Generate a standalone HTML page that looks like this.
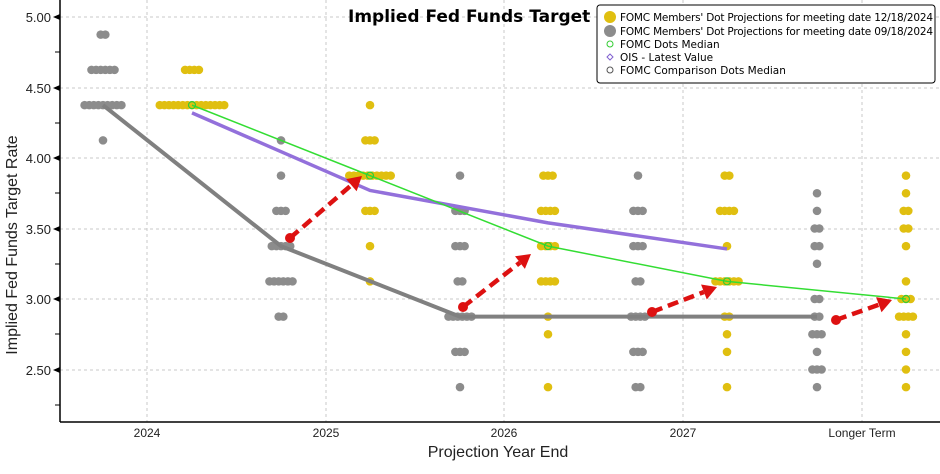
<!DOCTYPE html>
<html><head><meta charset="utf-8"><style>
body{margin:0;background:#fff;}
svg{display:block;font-family:"Liberation Sans",sans-serif;}
</style></head><body>
<svg id="s" width="940" height="474" xmlns="http://www.w3.org/2000/svg">
<rect width="940" height="474" fill="#fff"/>
<g stroke="#c8c8c8" stroke-dasharray="3,3" stroke-width="1">
<line x1="60" x2="940" y1="17" y2="17"/><line x1="60" x2="940" y1="88" y2="88"/><line x1="60" x2="940" y1="158" y2="158"/><line x1="60" x2="940" y1="229" y2="229"/><line x1="60" x2="940" y1="299" y2="299"/><line x1="60" x2="940" y1="370" y2="370"/>
<line x1="147" x2="147" y1="0" y2="422"/><line x1="326" x2="326" y1="0" y2="422"/><line x1="504" x2="504" y1="0" y2="422"/><line x1="683" x2="683" y1="0" y2="422"/><line x1="862" x2="862" y1="0" y2="422"/>
</g>
<g stroke="#000" stroke-width="1.5"><line x1="60" y1="0" x2="60" y2="422"/><line x1="60" y1="422" x2="940" y2="422"/></g>
<g stroke="#000" stroke-width="1">
<line x1="55" x2="60" y1="52" y2="52"/><line x1="55" x2="60" y1="123" y2="123"/><line x1="55" x2="60" y1="193" y2="193"/><line x1="55" x2="60" y1="264" y2="264"/><line x1="55" x2="60" y1="334" y2="334"/><line x1="55" x2="60" y1="405" y2="405"/>
</g>
<g fill="#000"><path d="M53,17 L60,14 L60,20Z"/><path d="M53,88 L60,85 L60,91Z"/><path d="M53,158 L60,155 L60,161Z"/><path d="M53,229 L60,226 L60,232Z"/><path d="M53,299 L60,296 L60,302Z"/><path d="M53,370 L60,367 L60,373Z"/></g>
<g font-size="13" fill="#222" text-anchor="end">
<text x="51" y="22">5.00</text><text x="51" y="93">4.50</text><text x="51" y="163">4.00</text><text x="51" y="234">3.50</text><text x="51" y="304">3.00</text><text x="51" y="375">2.50</text></g>
<g font-size="12" fill="#222" text-anchor="middle">
<text x="147" y="437">2024</text><text x="326" y="437">2025</text><text x="504" y="437">2026</text><text x="683" y="437">2027</text><text x="862" y="437">Longer Term</text></g>
<text x="498" y="457" font-size="16" fill="#222" text-anchor="middle">Projection Year End</text>
<text transform="translate(17,245) rotate(-90)" font-size="16" fill="#222" text-anchor="middle">Implied Fed Funds Target Rate</text>
<text x="348" y="22" font-size="17" font-weight="bold" fill="#000" style="font-family:'DejaVu Sans',sans-serif">Implied Fed Funds Target</text>
<g id="dots"></g>
<g id="lines"></g>
<g transform="translate(597,5)">
<rect x="0" y="0" width="338" height="78" rx="3" fill="#fff" stroke="#000" stroke-width="1"/>
<circle cx="13" cy="12" r="6" fill="#e0bf10"/><circle cx="13" cy="26" r="6" fill="#8c8c8c"/>
<circle cx="13" cy="39" r="3" fill="none" stroke="#33cc33"/>
<path d="M13,49 L16,52 L13,55 L10,52Z" fill="none" stroke="#8060d0"/>
<circle cx="13" cy="65" r="3" fill="none" stroke="#555"/>
<g font-size="10.5" fill="#000" style="font-family:'DejaVu Sans',sans-serif" textLength="0">
<text x="23" y="16" textLength="313">FOMC Members' Dot Projections for meeting date 12/18/2024</text>
<text x="23" y="30" textLength="313">FOMC Members' Dot Projections for meeting date 09/18/2024</text>
<text x="23" y="43">FOMC Dots Median</text>
<text x="23" y="56">OIS - Latest Value</text>
<text x="23" y="69">FOMC Comparison Dots Median</text></g>
</g>
</svg>
<script>
var Y=function(v){return 17+(5-v)*141;};
var ns="http://www.w3.org/2000/svg";
function el(t,a,p){var e=document.createElementNS(ns,t);for(var k in a)e.setAttribute(k,a[k]);document.getElementById(p).appendChild(e);return e;}
var G="#8c8c8c",Yl="#e0bf10";
var data=[
[103,G,[[4.875,2],[4.625,6],[4.375,9],[4.125,1]]],
[192,Yl,[[4.625,4],[4.375,15]]],
[281,G,[[4.125,1],[3.875,1],[3.625,3],[3.375,5],[3.125,6],[2.875,2]]],
[370,Yl,[[4.375,1],[4.125,3],[3.875,10],[3.625,3],[3.375,1],[3.125,1]]],
[460,G,[[3.875,1],[3.625,3],[3.375,3],[3.125,2],[2.875,6],[2.625,3],[2.375,1]]],
[548,Yl,[[3.875,3],[3.625,4],[3.375,4],[3.125,4],[2.875,1],[2.75,1],[2.375,1]]],
[638,G,[[3.875,1],[3.625,3],[3.375,3],[3.125,2],[2.875,4],[2.625,3],[2.375,2]]],
[727,Yl,[[3.875,2],[3.625,4],[3.375,1],[3.125,6],[2.875,2],[2.75,1],[2.625,1],[2.375,1]]],
[817,G,[[3.75,1],[3.625,1],[3.5,2],[3.375,2],[3.25,1],[3.0,2],[2.875,2],[2.75,3],[2.625,1],[2.5,3],[2.375,1]]],
[906,Yl,[[3.875,1],[3.75,1],[3.625,2],[3.5,2],[3.375,1],[3.125,1],[3.0,3],[2.875,4],[2.75,1],[2.625,1],[2.5,1],[2.375,1]]]];
data.forEach(function(c){c[2].forEach(function(r){var n=r[1];for(var i=0;i<n;i++){el("circle",{cx:c[0]+(i-(n-1)/2)*4.6,cy:Y(r[0]),r:4.3,fill:c[1]},"dots");}});});
function pl(pts,col,w){el("polyline",{points:pts.map(function(p){return p[0]+","+Y(p[1]);}).join(" "),fill:"none",stroke:col,"stroke-width":w,"stroke-linejoin":"round"},"lines");}
pl([[103,4.375],[281,3.375],[460,2.875],[638,2.875],[817,2.875]],"#808080",4);
pl([[192,4.32],[370,3.77],[548,3.54],[727,3.355]],"#9370db",3.5);
pl([[192,4.375],[370,3.875],[548,3.375],[727,3.125],[906,3.0]],"#33dd33",1.5);
[[192,4.375],[370,3.875],[548,3.375],[727,3.125],[906,3.0]].forEach(function(p){el("circle",{cx:p[0],cy:Y(p[1]),r:3.5,fill:"none",stroke:"#33cc33","stroke-width":1.2},"lines");});
[[290,238,362,176],[463,307,531,254],[652,312,717,287],[836,320,892,300]].forEach(function(a){
var dx=a[2]-a[0],dy=a[3]-a[1],L=Math.sqrt(dx*dx+dy*dy),ux=dx/L,uy=dy/L;
var bx=a[2]-ux*14,by=a[3]-uy*14;
el("line",{x1:a[0],y1:a[1],x2:bx,y2:by,stroke:"#dd1111","stroke-width":4.5,"stroke-dasharray":"11,6"},"lines");
el("circle",{cx:a[0],cy:a[1],r:5,fill:"#dd1111"},"lines");
el("path",{d:"M"+a[2]+","+a[3]+" L"+(bx-uy*8)+","+(by+ux*8)+" L"+(bx+uy*8)+","+(by-ux*8)+"Z",fill:"#dd1111"},"lines");});
</script>
</body></html>
